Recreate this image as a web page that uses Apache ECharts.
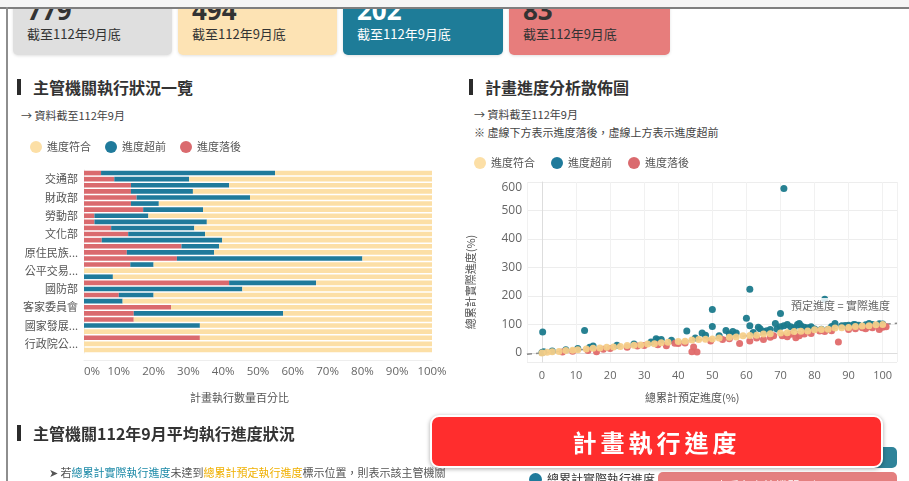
<!DOCTYPE html>
<html>
<head>
<meta charset="utf-8">
<title>計畫執行進度</title>
<script src="https://cdn.jsdelivr.net/npm/echarts@6.0.0/dist/echarts.min.js"></script>
<style>
  html, body { margin: 0; padding: 0; }
  body {
    width: 909px; height: 481px; overflow: hidden; position: relative;
    background: #fff;
    font-family: "Open Sans", "Noto Sans CJK TC", sans-serif;
    color: #333;
  }
  .abs { position: absolute; white-space: nowrap; }
  #topStrip { left: 0; top: 0; width: 909px; height: 7px; background: #f5f5f5; }
  #frameTop { left: 0; top: 7px; width: 909px; height: 2px; background: #7f7f7f; z-index: 5; }
  #frameLeft { left: 6px; top: 7px; width: 2px; height: 474px; background: #8e8e8e; z-index: 5; }
  #cards { left: 8px; top: 9px; width: 901px; height: 60px; overflow: hidden; }
  .card { position: absolute; top: -30px; height: 76px; border-radius: 5px;
          box-shadow: 0 1px 3px rgba(0,0,0,0.12); }
  .card .num { position: absolute; left: 14px; top: 18px; font: bold 26px/26px "Open Sans", sans-serif; }
  .card .sub { position: absolute; left: 14px; top: 47px; font: 13px/16px "Noto Sans CJK TC", sans-serif; }
  .title { font: bold 16px/20px "Noto Sans CJK TC", sans-serif; color: #333; }
  .bar { background: #2b2b2b; width: 4px; height: 16px; }
  .note { font: 11px/14px "Noto Sans CJK TC", sans-serif; color: #444; }
  #chart { left: 0; top: 0; width: 909px; height: 481px; }
  .axisName { font: 11px/14px "Noto Sans CJK TC", sans-serif; color: #555; }
  #banner { left: 430px; top: 415px; width: 449px; height: 49px; background: #ff2d2d;
            border: 2px solid #fff; border-radius: 9px; box-shadow: 0 1px 4px rgba(0,0,0,0.35);
            z-index: 10; color: #fff; text-align: center;
            font: bold 24px/49px "Noto Sans CJK TC", sans-serif; letter-spacing: 4px; }
</style>
</head>
<body>
<div id="topStrip" class="abs"></div>
<div id="frameTop" class="abs"></div>
<div id="frameLeft" class="abs"></div>
<div id="cards" class="abs"></div>

<div class="abs bar" style="left:17px;top:79px;"></div>
<div class="abs title" style="left:33px;top:77px;">主管機關執行狀況一覽</div>
<div class="abs note" style="left:21px;top:108px;">→ 資料截至112年9月</div>

<div class="abs bar" style="left:469px;top:79px;"></div>
<div class="abs title" style="left:485px;top:77px;">計畫進度分析散佈圖</div>
<div class="abs note" style="left:474px;top:107px;">→ 資料截至112年9月</div>
<div class="abs note" style="left:474px;top:125px;">※ 虛線下方表示進度落後，虛線上方表示進度超前</div>

<div id="chart" class="abs"></div>

<div class="abs axisName" style="left:190px;top:390px;">計畫執行數量百分比</div>
<div class="abs axisName" style="left:645px;top:390px;">總累計預定進度(%)</div>
<div class="abs axisName" style="left:420px;top:275px;transform:rotate(-90deg);transform-origin:50% 50%;width:100px;text-align:center;">總累計實際進度(%)</div>
<div class="abs axisName" style="left:791px;top:298px;color:#666;background:rgba(255,255,255,0.85);">預定進度 = 實際進度</div>

<div class="abs bar" style="left:17px;top:425px;"></div>
<div class="abs title" style="left:33px;top:423px;">主管機關112年9月平均執行進度狀況</div>
<div class="abs note" style="left:49px;top:465px;color:#555;">➤ 若<span style="color:#1d8aa8">總累計實際執行進度</span>未達到<span style="color:#f0b000">總累計預定執行進度</span>標示位置，則表示該主管機關</div>

<div class="abs" style="left:700px;top:447px;width:197px;height:21px;background:#2f8399;border-radius:5px;"></div>
<div class="abs" style="left:658px;top:472px;width:239px;height:24px;background:#e47f7f;border-radius:5px;color:#fff;font:12px/20px 'Noto Sans CJK TC';text-align:center;padding-top:4px;">查看各主管機關明細 &gt;&gt;</div>
<div class="abs" style="left:529px;top:473px;width:13px;height:13px;border-radius:50%;background:#1f7a9b;"></div>
<div class="abs" style="left:547px;top:471px;font:12px/16px 'Noto Sans CJK TC';color:#333;">總累計實際執行進度</div>

<div id="banner" class="abs">計畫執行進度</div>

<script>
// Summary cards: total plans and counts by progress status
const cardValues = [779, 494, 202, 83];
const cardNote = '截至112年9月底';
const cardColors = ['#dfdfdf', '#fde3b4', '#1e7c98', '#e77d7c'];
const cardText = ['#333', '#333', '#fff', '#333'];
const cardLeft = [5, 170, 335, 501];
const cardWidth = [159, 159, 160, 161];

const cardBox = document.getElementById('cards');
cardValues.forEach(function (v, i) {
  const c = document.createElement('div');
  c.className = 'card';
  c.style.left = cardLeft[i] + 'px';
  c.style.width = cardWidth[i] + 'px';
  c.style.background = cardColors[i];
  c.style.color = cardText[i];
  c.innerHTML = '<div class="num">' + v + '</div><div class="sub">' + cardNote + '</div>';
  cardBox.appendChild(c);
});

// Agencies, top to bottom
const agencies = [
  '內政部', '交通部', '教育部', '經濟部', '財政部', '法務部', '衛生福利部', '勞動部',
  '農業部', '環境部', '文化部', '數位發展部', '外交部', '原住民族委員會', '國家科學及技術委員會',
  '海洋委員會', '公平交易委員會', '僑務委員會', '國軍退除役官兵輔導委員會', '國防部',
  '金融監督管理委員會', '大陸委員會', '客家委員會', '行政院主計總處', '行政院人事行政總處',
  '國家發展委員會', '中央銀行', '國立故宮博物院', '行政院公共工程委員會', '核能安全委員會'
];
// Share of plans (%) per agency by status
const pctBehind = [
  4.9, 8.7, 13.5, 13.5, 15.1, 13.5, 17.0, 3.0, 3.0, 7.8,
  12.7, 5.1, 28.0, 12.3, 26.7, 13.3, 0, 0, 41.7, 0,
  10.0, 0, 25.0, 14.3, 14.3, 0, 0, 33.3, 0, 0
];
const pctAhead = [
  50.0, 21.5, 28.2, 17.8, 32.6, 8.0, 17.2, 15.5, 32.3, 23.9,
  22.1, 34.6, 10.8, 25.1, 53.3, 6.7, 0, 8.3, 25.0, 45.5,
  10.0, 11.1, 0, 42.9, 0, 33.3, 0, 0, 0, 0
];
const pctOnTrack = pctBehind.map(function (b, i) {
  return +(100 - b - pctAhead[i]).toFixed(1);
});

// Scatter: [cumulative planned progress %, cumulative actual progress %]
const ptsOnTrack = [
  [0,0],[1.5,2],[3,4],[5,5],[7,8],[9,9.5],[10.5,11],[13,14],[15,16],[17,17.5],
  [19,20],[21,21],[23,22],[25,26],[27,27],[29,28],[31,31],[33,32],[35,36],[37,37],
  [40,40],[42,41],[44,45],[46,47],[48,48],[50,49],[52,52],[55,55],[57,56],[59,60],
  [61,61],[63,62],[65,66],[67,67],[70,70],[72,71],[74,75],[76,76],[78,77],[80,81],
  [82,82],[84,83],[86,87],[88,88],[90,89],[92,93],[94,94],[96,95],[98,99],[100,100]
];
const ptsAhead = [
  [0.2,73],[12.5,79],[42.5,77],[50,152],[50,93],[60,122],[61,223],[71,577],[83,188],
  [70,138],[61,95],[47,70],[48,62],[33.5,50],[34,45],[54,79],[57,70],[56,75],[63.5,90],
  [64,85],[66,78],[67,82],[68.5,103],[70,92],[71,95],[72,100],[73,92],[75,100],[76,95],
  [75.5,103],[78,88],[80,84],[82,83],[84,83],[86,103],[88,95],[90,97],[91.5,100],[93,97],
  [95,99],[97,100],[99,102],[100,101],[0,1],[0.5,4],[3,7],[7,11],[10.5,15],
  [14,20],[15,24],[22,27],[27,31],[32,38],[35,47],[38,44],[45,52],[52,60],[55,66],
  [62,72],[65,76],[69,84],[74,88],[77,90],[79,92],[85,93],[89,96],[92,99],[96,103]
];
const ptsBehind = [
  [87,38],[58,33],[44.5,21],[45.5,3],[44,4],[16,4],[13.5,8],[36.5,25],[49.5,42],[61,42],
  [65,47],[67,55],[70.5,60],[73,65],[74.5,53],[75.5,60],[79,68],[81.5,77],[95,85],[97,88],
  [99,82],[100,90],[20,15],[25,20],[30,26],[40,33],[42,35],[53,47],[55,50],[63,52],
  [68,60],[72,57],[77,66],[83,75],[85,78],[90,82],[92,85],[94,88],[96,92],[101,92],
  [9,6],[6,3],[18,13],[28,24],[34,29],[39,34]
];
const diagonal = [[-4.4, -4.4], [104.2, 104.2]];

const C = { onTrack: '#fcdfa6', ahead: '#1f7a9b', behind: '#da6a6e' };
const SC = { onTrack: '#f5cf89', ahead: '#1b7a8c', behind: '#e06a6a' };
const FONT = '"Open Sans", "Noto Sans CJK TC", sans-serif';

const chart = echarts.init(document.getElementById('chart'), null, { renderer: 'canvas' });

const legendBase = {
  icon: 'circle', itemWidth: 12, itemHeight: 12, itemGap: 14,
  textStyle: { fontSize: 11, color: '#555', fontFamily: '"Noto Sans CJK TC", sans-serif' },
  data: ['進度符合', '進度超前', '進度落後']
};

chart.setOption({
  animation: false,
  textStyle: { fontFamily: FONT },
  legend: [
    Object.assign({}, legendBase, { left: 25, top: 136 }),
    Object.assign({}, legendBase, { left: 469, top: 152, itemGap: 16 })
  ],
  grid: [
    { left: 84, top: 170, width: 348, height: 183 },
    { left: 527, top: 182, width: 370, height: 180 }
  ],
  xAxis: [
    {
      gridIndex: 0, type: 'value', min: 0, max: 100, interval: 10, offset: 7,
      axisLine: { show: true, lineStyle: { color: '#eeeeee' } },
      axisTick: { show: false },
      splitLine: { show: false },
      axisLabel: { formatter: '{value}%', fontSize: 11.5, color: '#666', margin: 6, alignMinLabel: 'left' }
    },
    {
      gridIndex: 1, type: 'value', min: -4.4, max: 104.2, splitNumber: 10,
      axisLine: { show: true, lineStyle: { color: '#dddddd' } },
      axisTick: { show: false },
      splitLine: { show: true, lineStyle: { color: '#f1f1f1' } },
      axisLabel: { fontSize: 11, color: '#666', margin: 8, showMinLabel: false, showMaxLabel: false }
    }
  ],
  yAxis: [
    {
      gridIndex: 0, type: 'category', inverse: true, data: agencies,
      axisLine: { show: true, lineStyle: { color: '#eeeeee' } },
      axisTick: { show: false },
      axisLabel: {
        interval: function (idx) { return idx % 3 === 1; },
        fontSize: 11, color: '#555', margin: 6,
        width: 56, overflow: 'truncate', ellipsis: '...',
        fontFamily: '"Noto Sans CJK TC", sans-serif'
      }
    },
    {
      gridIndex: 1, type: 'value', min: -32, max: 600, splitNumber: 6,
      axisLine: { show: true, lineStyle: { color: '#dddddd' } },
      axisTick: { show: false },
      splitLine: { show: true, lineStyle: { color: '#ededed' } },
      axisLabel: { fontSize: 12, color: '#666', margin: 5, showMinLabel: false, verticalAlignMaxLabel: 'top' }
    }
  ],
  series: [
    { name: '進度落後', type: 'bar', stack: 'share', xAxisIndex: 0, yAxisIndex: 0,
      barCategoryGap: '24%', itemStyle: { color: C.behind }, data: pctBehind },
    { name: '進度超前', type: 'bar', stack: 'share', xAxisIndex: 0, yAxisIndex: 0,
      itemStyle: { color: C.ahead }, data: pctAhead },
    { name: '進度符合', type: 'bar', stack: 'share', xAxisIndex: 0, yAxisIndex: 0,
      itemStyle: { color: C.onTrack }, data: pctOnTrack },

    { type: 'line', xAxisIndex: 1, yAxisIndex: 1, data: diagonal, symbol: 'none', silent: true,
      lineStyle: { color: '#8a8a8a', width: 1.5, type: [5, 4] }, z: 1 },
    { name: '進度超前', type: 'scatter', xAxisIndex: 1, yAxisIndex: 1, symbolSize: 7,
      itemStyle: { color: SC.ahead, opacity: 0.95 }, data: ptsAhead, z: 3 },
    { name: '進度落後', type: 'scatter', xAxisIndex: 1, yAxisIndex: 1, symbolSize: 7,
      itemStyle: { color: SC.behind, opacity: 0.95 }, data: ptsBehind, z: 4 },
    { name: '進度符合', type: 'scatter', xAxisIndex: 1, yAxisIndex: 1, symbolSize: 7,
      itemStyle: { color: SC.onTrack, opacity: 0.95 }, data: ptsOnTrack, z: 6 }
  ]
});
</script>
</body>
</html>
